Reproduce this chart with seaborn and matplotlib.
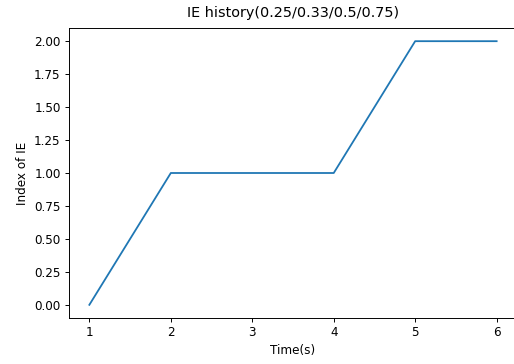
import matplotlib
matplotlib.use("Agg")
import matplotlib.pyplot as plt
import seaborn as sns
import pandas as pd

time_s = [1, 2, 3, 4, 5, 6]
ie_index = [0, 1, 1, 1, 2, 2]

df = pd.DataFrame({"Time(s)": time_s, "Index of IE": ie_index})

plt.rcParams["font.family"] = ["DejaVu Sans"]
plt.rcParams["font.size"] = 10

DPI = 86.4
fig = plt.figure(figsize=(514 / DPI, 364 / DPI), dpi=DPI)
ax = fig.add_axes([69 / 514, 46 / 364, (517 - 69) / 514, (318 - 28) / 364])
sns.lineplot(data=df, x="Time(s)", y="Index of IE", ax=ax, color="#1f77b4", linewidth=1.5)
ax.set_title("IE history(0.25/0.33/0.5/0.75)", pad=9)
ax.set_ylabel("Index of IE")
ax.set_yticks([0, 0.25, 0.5, 0.75, 1.0, 1.25, 1.5, 1.75, 2.0])
ax.set_yticklabels(["0.00", "0.25", "0.50", "0.75", "1.00", "1.25", "1.50", "1.75", "2.00"])
fig.savefig("out.png", dpi=DPI)
